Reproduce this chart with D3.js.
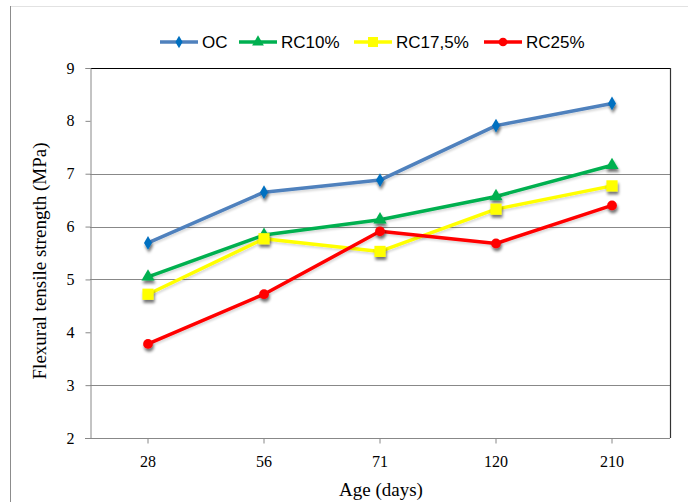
<!DOCTYPE html>
<html><head><meta charset="utf-8">
<script src="https://cdn.jsdelivr.net/npm/d3@7"></script>
<style>html,body{margin:0;padding:0;background:#fff;}svg{display:block;}</style>
</head><body>
<svg id="chart" width="688" height="502"></svg>
<script>
const categories = ["28", "56", "71", "120", "210"];
const seriesNames = ["OC", "RC10%", "RC17,5%", "RC25%"];
const ocValues = [5.69, 6.65, 6.88, 7.91, 8.33];
const rc10Values = [5.05, 5.84, 6.13, 6.57, 7.16];
const rc175Values = [4.72, 5.77, 5.53, 6.33, 6.77];
const rc25Values = [3.78, 4.72, 5.91, 5.68, 6.40];
const yTicks = [2, 3, 4, 5, 6, 7, 8, 9];
const gridValues = [3, 5, 6, 7];

const series = [
  {name: seriesNames[0], values: ocValues, line: "#4F81BD", marker: "#0070C0", shape: "diamond"},
  {name: seriesNames[1], values: rc10Values, line: "#00B050", marker: "#00B050", shape: "triangle"},
  {name: seriesNames[2], values: rc175Values, line: "#FFFF00", marker: "#FFFF00", shape: "square"},
  {name: seriesNames[3], values: rc25Values, line: "#FF0000", marker: "#FF0000", shape: "circle"}
];

const svg = d3.select("#chart");
const L = 90, R = 670, T = 68, B = 438;

const defs = svg.append("defs");
function makeShadow(id, blur, dy, alpha) {
  const f = defs.append("filter").attr("id", id).attr("x", "-60%").attr("y", "-60%").attr("width", "220%").attr("height", "220%");
  f.append("feGaussianBlur").attr("in", "SourceAlpha").attr("stdDeviation", blur).attr("result", "b");
  f.append("feOffset").attr("in", "b").attr("dx", 1).attr("dy", dy).attr("result", "o");
  f.append("feComponentTransfer").attr("in", "o").attr("result", "o2")
    .append("feFuncA").attr("type", "linear").attr("slope", alpha);
  const m = f.append("feMerge");
  m.append("feMergeNode").attr("in", "o2");
  m.append("feMergeNode").attr("in", "SourceGraphic");
}
makeShadow("sh", 1.6, 2.5, 0.55);
makeShadow("shl", 1.2, 1.5, 0.15);

// outer chart border (partial)
svg.append("line").attr("x1", 11).attr("x2", 688).attr("y1", 6.5).attr("y2", 6.5).attr("stroke", "#e2e2e2").attr("stroke-width", 1);
svg.append("line").attr("x1", 10.5).attr("x2", 10.5).attr("y1", 6).attr("y2", 502).attr("stroke", "#8c8c8c").attr("stroke-width", 1);

const x = d3.scaleBand().domain(categories).range([L, R]);
const y = d3.scaleLinear().domain([2, 9]).range([B, T]);
const cx = c => x(c) + x.bandwidth() / 2;

// gridlines
svg.append("g").selectAll("line").data(gridValues).join("line")
  .attr("x1", L).attr("x2", R)
  .attr("y1", d => Math.round(y(d)) + 0.5).attr("y2", d => Math.round(y(d)) + 0.5)
  .attr("stroke", "#888").attr("stroke-width", 1);

// plot border top/right
svg.append("line").attr("x1", L).attr("x2", R + 0.5).attr("y1", T + 0.5).attr("y2", T + 0.5).attr("stroke", "#000").attr("stroke-width", 1.2);
svg.append("line").attr("x1", R + 0.5).attr("x2", R + 0.5).attr("y1", T).attr("y2", B).attr("stroke", "#333").attr("stroke-width", 1.2);

// y axis
const yAxis = svg.append("g").attr("transform", `translate(${L + 0.5},0)`)
  .call(d3.axisLeft(y).tickValues(yTicks).tickSize(5).tickPadding(11).tickFormat(d3.format("d")));
yAxis.select(".domain").attr("stroke", "#888");
yAxis.selectAll(".tick line").attr("stroke", "#888");
yAxis.selectAll("text").attr("font-family", "'Liberation Serif', 'Times New Roman', serif").attr("font-size", 16).attr("fill", "#000");

// x axis
const xAxis = svg.append("g").attr("transform", `translate(0,${B + 0.5})`)
  .call(d3.axisBottom(x).tickSize(5).tickPadding(12).tickSizeOuter(0));
xAxis.select(".domain").attr("stroke", "#888").attr("d", `M${L - 5},0H${R}`);
xAxis.selectAll(".tick line").attr("stroke", "#888");
xAxis.selectAll("text").attr("font-family", "'Liberation Serif', 'Times New Roman', serif").attr("font-size", 16).attr("fill", "#000");

// axis titles
svg.append("text").attr("transform", `translate(46,${(T + B) / 2 + 8}) rotate(-90)`)
  .attr("text-anchor", "middle").attr("font-family", "'Liberation Serif', 'Times New Roman', serif")
  .attr("font-size", 19).text("Flexural tensile strength (MPa)");
svg.append("text").attr("x", 381).attr("y", 496).attr("text-anchor", "middle")
  .attr("font-family", "'Liberation Serif', 'Times New Roman', serif").attr("font-size", 19).text("Age (days)");

const symbolFor = (shape, size) => {
  const t = {diamond: d3.symbolDiamond, triangle: d3.symbolTriangle, square: d3.symbolSquare, circle: d3.symbolCircle}[shape];
  return d3.symbol().type(t).size(size)();
};
const sizes = {diamond: 55, triangle: 75, square: 125, circle: 75};

const line = d3.line().x((d, i) => cx(categories[i])).y(d => y(d));
series.forEach(s => {
  const g = svg.append("g");
  g.append("path").datum(s.values).attr("d", line).attr("fill", "none")
    .attr("stroke", s.line).attr("stroke-width", 3.5).attr("stroke-linejoin", "round").attr("filter", "url(#shl)");
  g.selectAll("path.mk").data(s.values).join("path").attr("class", "mk")
    .attr("transform", (d, i) => `translate(${cx(categories[i])},${y(d)})`)
    .attr("d", symbolFor(s.shape, sizes[s.shape])).attr("fill", s.marker).attr("filter", "url(#sh)");
});

// legend
const legX = [160, 239, 354, 484];
const lg = svg.append("g");
series.forEach((s, i) => {
  const g = lg.append("g").attr("transform", `translate(${legX[i]},42)`);
  g.append("line").attr("x1", 0).attr("x2", 38).attr("stroke", s.line).attr("stroke-width", 3.5);
  g.append("path").attr("transform", "translate(19,0)").attr("d", symbolFor(s.shape, sizes[s.shape] * 0.8)).attr("fill", s.marker);
  g.append("text").attr("x", 42).attr("y", 6).attr("font-family", "'Liberation Sans', Arial, sans-serif")
    .attr("font-size", 17).text(s.name);
});
</script>
</body></html>
